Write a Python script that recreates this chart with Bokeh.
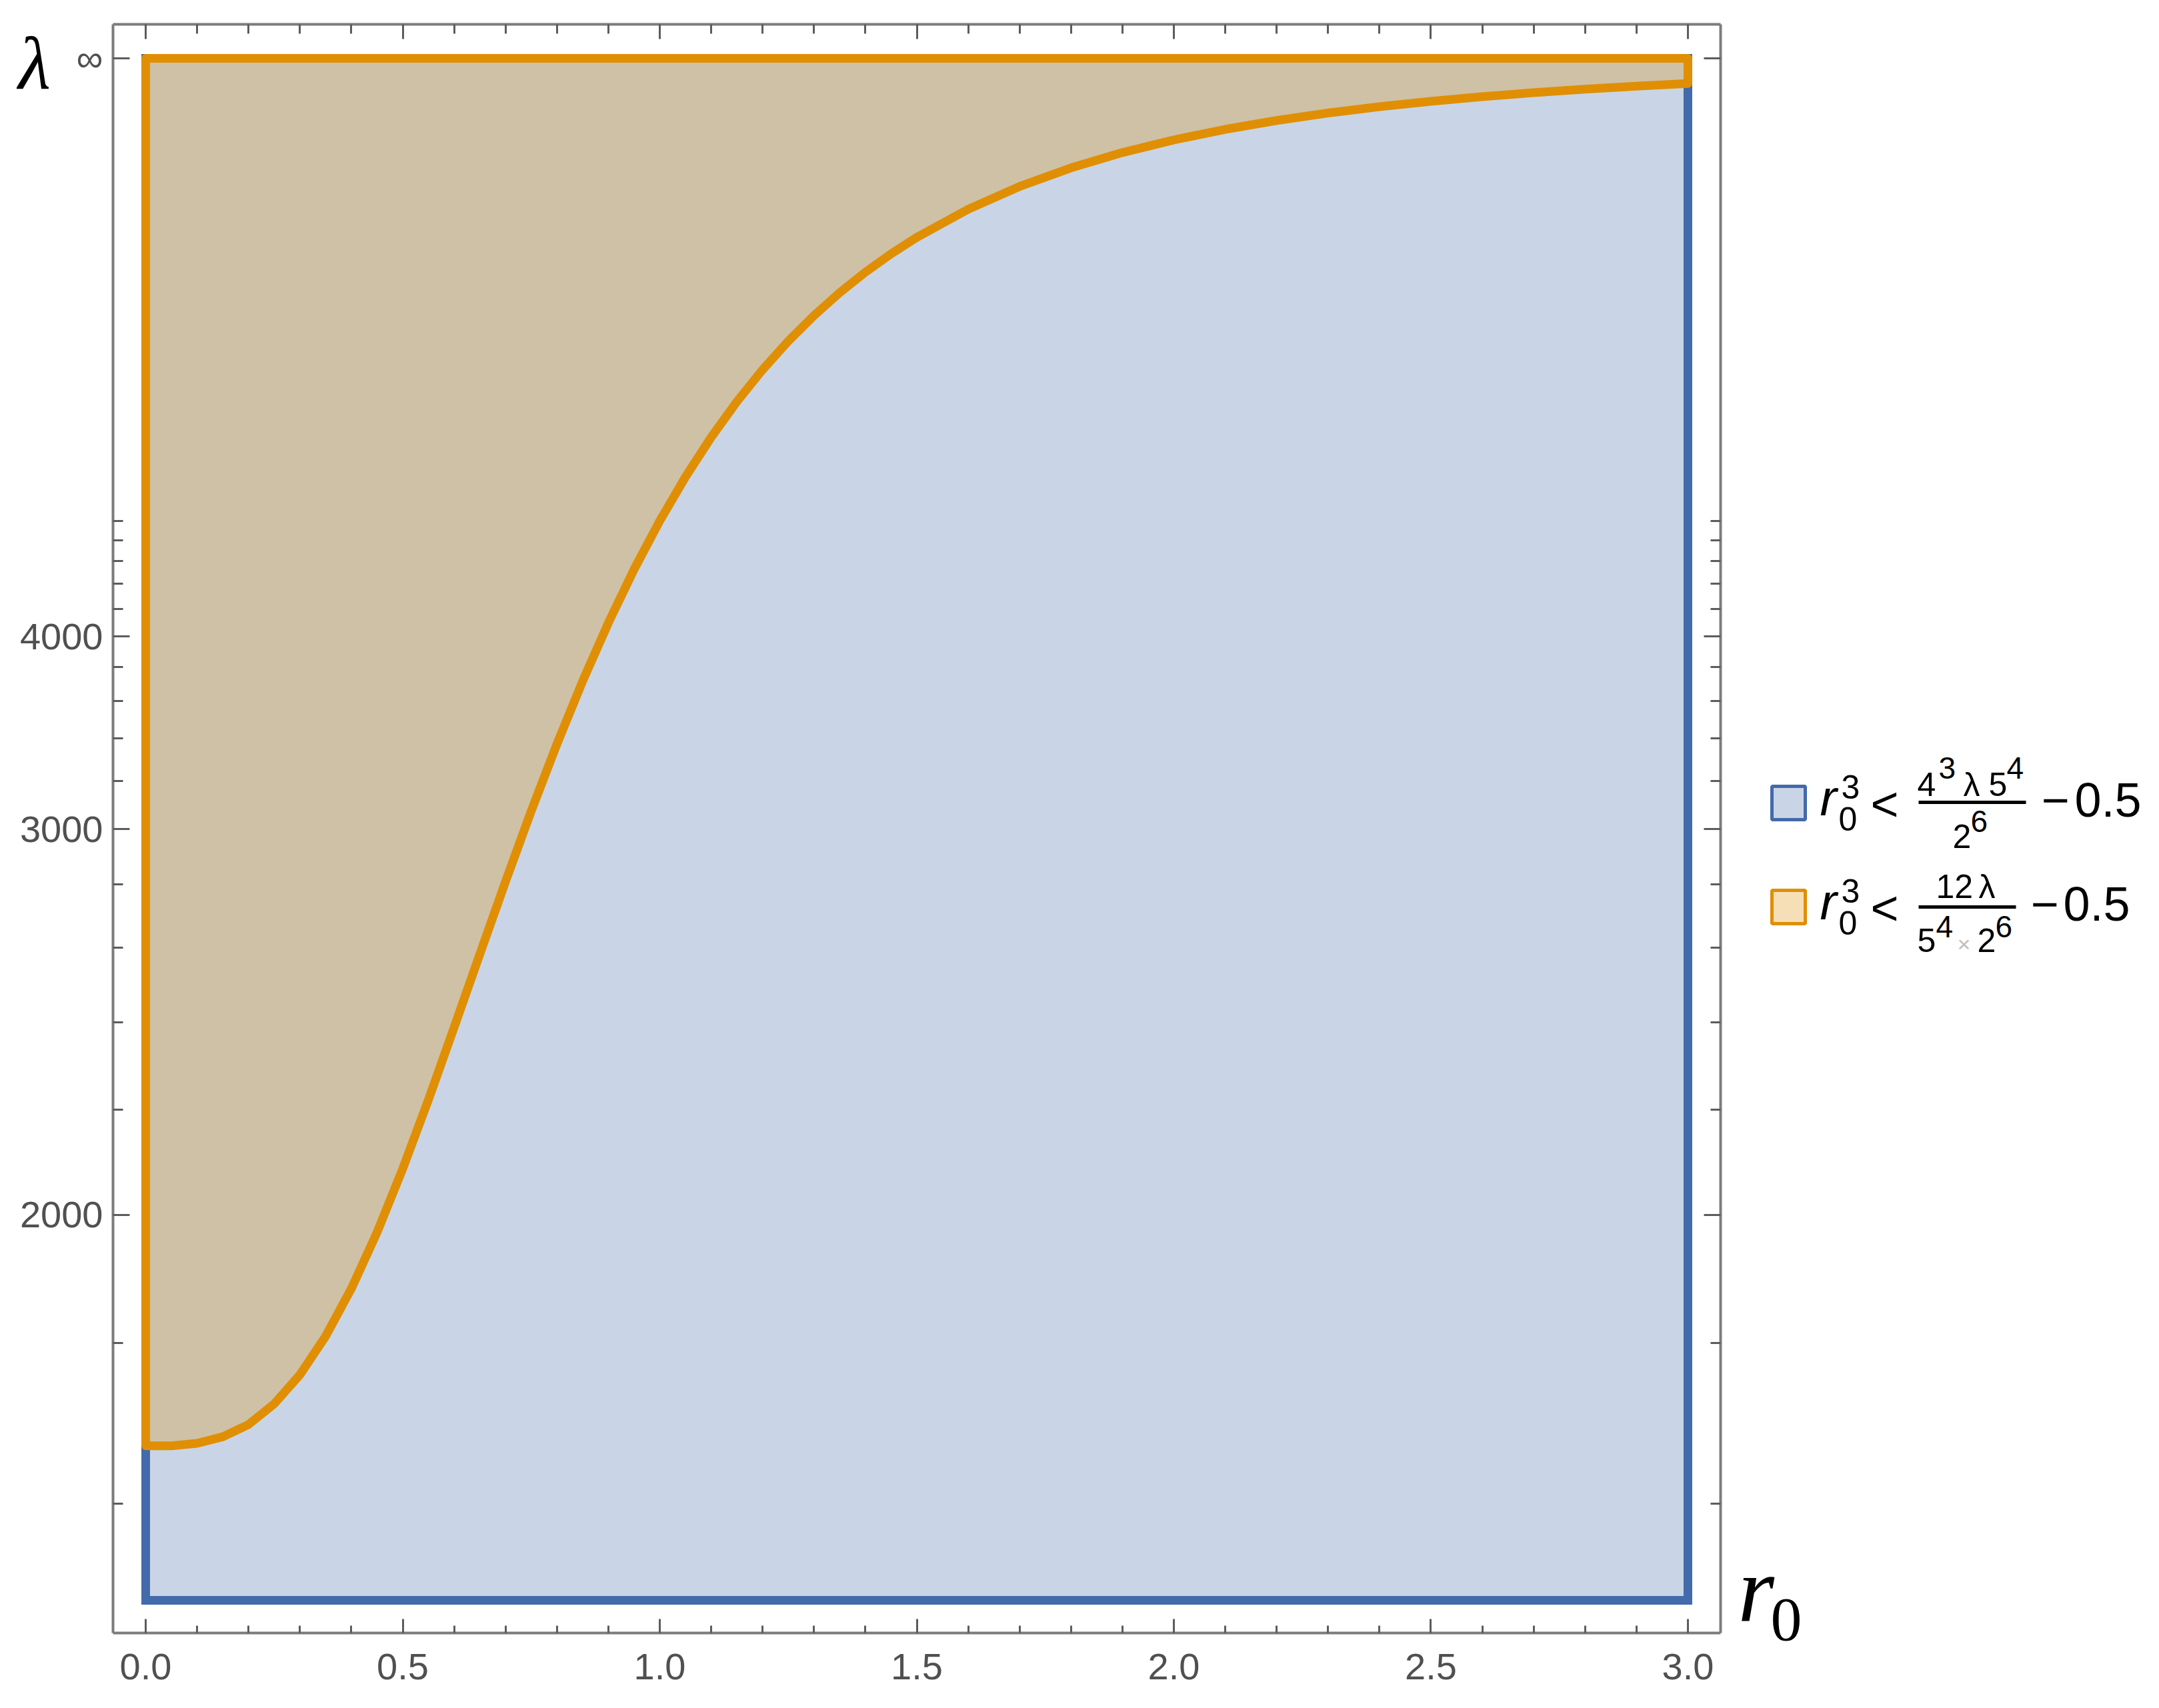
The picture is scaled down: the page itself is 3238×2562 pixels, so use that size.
import numpy as np
from bokeh.plotting import figure
from bokeh.models import (FixedTicker, PrintfTickFormatter, LinearAxis,
                          Range1d, ColumnDataSource)
from bokeh.layouts import row
from bokeh.embed import file_html
from bokeh.resources import INLINE
from bokeh.core.properties import value

# ---------------- data ----------------
# r0 samples and the lambda value of the orange boundary at each r0
R0 = [0.0, 0.05, 0.1, 0.15, 0.2, 0.25, 0.3, 0.35, 0.4, 0.45, 0.5, 0.55, 0.6,
      0.65, 0.7, 0.75, 0.8, 0.85, 0.9, 0.95, 1.0, 1.05, 1.1, 1.15, 1.2, 1.25,
      1.3, 1.35, 1.4, 1.45, 1.5, 1.6, 1.7, 1.8, 1.9, 2.0, 2.1, 2.2, 2.3, 2.4,
      2.5, 2.6, 2.7, 2.8, 2.9, 3.0]
LAMBDA_EDGE = [1667, 1667, 1670, 1678, 1693, 1719, 1757, 1810, 1880, 1970,
               2083, 2221, 2387, 2582, 2810, 3073, 3373, 3714, 4097, 4525,
               5000, 5525, 6103, 6736, 7427, 8177, 8990, 9868, 10813, 11829,
               12917, 15320, 18043, 21107, 24530, 28333, 32537, 37160, 42223,
               47747, 53750, 60253, 67277, 74840, 82963, 91667]
R0_LIMITS = [0.0, 3.0]
LAMBDA_LIMITS = [1500.0, np.inf]

X_TICKS = [0.0, 0.5, 1.0, 1.5, 2.0, 2.5, 3.0]
X_MINOR_TICKS = [0.0, 0.1, 0.2, 0.3, 0.4, 0.5, 0.6, 0.7, 0.8, 0.9, 1.0, 1.1,
                 1.2, 1.3, 1.4, 1.5, 1.6, 1.7, 1.8, 1.9, 2.0, 2.1, 2.2, 2.3,
                 2.4, 2.5, 2.6, 2.7, 2.8, 2.9, 3.0]
Y_TICK_VALUES = [2000.0, 3000.0, 4000.0, np.inf]
Y_TICK_LABELS = ["2000", "3000", "4000", "\u221e"]
Y_MINOR_VALUES = [1600, 1800, 2200, 2400, 2600, 2800, 3200, 3400, 3600, 3800,
                  4200, 4400, 4600, 4800, 5000]
Y_TITLE = "\u03bb"
X_TITLE = ("r", "0")

# ---------------- styles ----------------
BLUE_FILL = "#C9D5E6"
BLUE_EDGE = "#436AAA"
TAN_FILL = "#CFC1A5"
ORANGE = "#E08F04"
ORANGE_LIGHT = "#F6DFB7"
AXIS_COLOR = "#7c7c7c"
TICK_COLOR = "#5c5c5c"
LABEL_COLOR = "#505050"
SANS = "Liberation Sans"
SERIF = "Liberation Serif"
EDGE_W = 13

PAGE_W, PAGE_H = 3238, 2562
FRAME_TOP, FRAME_H = 36, 2413
LEFT_W = 165          # side panel holding the y labels
MAIN_W = 2427         # main plot (frame + thin borders)


def to_u(lam):
    """Compactified lambda scale: lambda_min -> 0, infinity -> 1."""
    return 1.0 - LAMBDA_LIMITS[0] / np.asarray(lam, dtype=float)


y_range = Range1d(-0.0212, 1.022)

# ---------------- main plot ----------------
p = figure(width=MAIN_W, height=PAGE_H,
           x_range=Range1d(-0.0636, 3.0636), y_range=y_range,
           x_axis_type=None, y_axis_type=None,
           output_backend="svg", toolbar_location=None,
           min_border_left=4, min_border_right=12,
           min_border_top=FRAME_TOP,
           min_border_bottom=PAGE_H - FRAME_TOP - FRAME_H)
p.outline_line_color = None
p.background_fill_color = "white"
p.border_fill_color = "white"

y_ticks = [float(v) for v in to_u(Y_TICK_VALUES)]
y_minor = [float(v) for v in to_u(Y_MINOR_VALUES)]


def frame_axis(ticks, minor, major_len, minor_len, show_labels):
    ax = LinearAxis(ticker=FixedTicker(ticks=ticks, minor_ticks=minor),
                    axis_line_color=AXIS_COLOR, axis_line_width=4,
                    major_tick_line_color=TICK_COLOR, major_tick_line_width=3,
                    minor_tick_line_color=TICK_COLOR, minor_tick_line_width=3,
                    major_tick_in=major_len, major_tick_out=0,
                    minor_tick_in=minor_len, minor_tick_out=0)
    if show_labels:
        ax.major_label_text_font = SANS
        ax.major_label_text_font_size = "56px"
        ax.major_label_text_color = LABEL_COLOR
    else:
        ax.major_label_text_font_size = "0px"
        ax.major_label_text_alpha = 0
        ax.major_label_standoff = 0
    return ax


bottom = frame_axis(X_TICKS, X_MINOR_TICKS, 21, 11, True)
bottom.formatter = PrintfTickFormatter(format="%.1f")
bottom.major_label_standoff = 31
top = frame_axis(X_TICKS, X_MINOR_TICKS, 22, 14, False)
left = frame_axis(y_ticks, y_minor, 25, 15, False)
right = frame_axis(y_ticks, y_minor, 25, 15, False)

p.add_layout(bottom, "below")
p.add_layout(top, "above")
p.add_layout(left, "left")
p.add_layout(right, "right")

# blue region: whole rectangle
p.quad(left=R0_LIMITS[0], right=R0_LIMITS[1],
       bottom=float(to_u(LAMBDA_LIMITS[0])), top=float(to_u(LAMBDA_LIMITS[1])),
       fill_color=BLUE_FILL, line_color=BLUE_EDGE, line_width=EDGE_W,
       line_join="miter")

# orange region: above the boundary curve
u_top = float(to_u(LAMBDA_LIMITS[1]))
xs = [R0_LIMITS[0], R0_LIMITS[1]] + R0[::-1]
ys = [u_top, u_top] + [float(v) for v in to_u(LAMBDA_EDGE)][::-1]
p.patch(xs, ys, fill_color=TAN_FILL, line_color=ORANGE, line_width=EDGE_W,
        line_join="round")

# ---------------- left panel: y tick labels and lambda title ----------------
lp = figure(width=LEFT_W, height=PAGE_H,
            x_range=Range1d(0, LEFT_W), y_range=y_range,
            x_axis_location=None, y_axis_location=None,
            output_backend="svg", toolbar_location=None,
            min_border_left=0, min_border_right=0,
            min_border_top=FRAME_TOP,
            min_border_bottom=PAGE_H - FRAME_TOP - FRAME_H)
lp.outline_line_color = None
lp.grid.visible = False
lp.background_fill_color = "white"
lp.border_fill_color = "white"

lp.text(x=[154] * len(y_ticks), y=y_ticks, text=Y_TICK_LABELS,
        text_font=value(SANS), text_font_size="56px", text_color=LABEL_COLOR,
        text_align="right", text_baseline="middle")
lp.text(x=[27], y=[0.9965], text=[Y_TITLE], text_font=value(SERIF),
        text_font_style="italic", text_font_size="112px", text_color="black",
        text_align="left", text_baseline="middle")

# ---------------- legend / right panel (pixel coordinates) ----------------
X0 = LEFT_W + MAIN_W
leg = figure(width=PAGE_W - X0, height=PAGE_H,
             x_range=Range1d(X0, PAGE_W), y_range=Range1d(PAGE_H, 0),
             x_axis_location=None, y_axis_location=None,
             output_backend="svg", toolbar_location=None,
             min_border_left=0, min_border_right=0,
             min_border_top=0, min_border_bottom=0)
leg.frame_align = False
leg.outline_line_color = None
leg.grid.visible = False
leg.background_fill_color = "white"
leg.border_fill_color = "white"

# r0 axis title
leg.text(x=[2606], y=[2383], text=[X_TITLE[0]], text_font=value(SERIF),
         text_font_style="italic", text_font_size="140px", text_color="black",
         text_baseline="middle", text_align="left")
leg.text(x=[2655], y=[2429], text=[X_TITLE[1]], text_font=value(SERIF),
         text_font_size="94px", text_color="black",
         text_baseline="middle", text_align="left")

SW_X = 2682
ROW_Y = [1204, 1360]
leg.rect(x=[SW_X, SW_X], y=ROW_Y, width=50, height=50,
         fill_color=[BLUE_FILL, ORANGE_LIGHT], line_color=[BLUE_EDGE, ORANGE],
         line_width=5)

# legend pieces: (text, x, centre offset from row, size, style, color)
common = [("r", 2729, -8, 76, "italic", "black"),
          ("3", 2761, -24, 50, "normal", "black"),
          ("0", 2757, 24, 50, "normal", "black"),
          ("<", 2805, 1, 72, "normal", "black")]
row1 = common + [("4", 2875, -28, 50, "normal", "black"),
                 ("3", 2907, -53, 46, "normal", "black"),
                 ("\u03bb", 2944, -28, 50, "normal", "black"),
                 ("5", 2982, -28, 50, "normal", "black"),
                 ("4", 3009, -53, 46, "normal", "black"),
                 ("2", 2928, 50, 50, "normal", "black"),
                 ("6", 2955, 27, 46, "normal", "black"),
                 ("\u2212", 3061, -5, 72, "normal", "black"),
                 ("0.5", 3111, -5, 72, "normal", "black")]
row2 = common + [("12", 2903, -31, 50, "normal", "black"),
                 ("\u03bb", 2967, -31, 50, "normal", "black"),
                 ("5", 2875, 50, 50, "normal", "black"),
                 ("4", 2903, 29, 46, "normal", "black"),
                 ("\u00d7", 2935, 55, 34, "normal", "#bdbdbd"),
                 ("2", 2965, 50, 50, "normal", "black"),
                 ("6", 2992, 29, 46, "normal", "black"),
                 ("\u2212", 3045, -5, 72, "normal", "black"),
                 ("0.5", 3094, -5, 72, "normal", "black")]

for ry, pieces in zip(ROW_Y, [row1, row2]):
    src = ColumnDataSource(dict(
        x=[pc[1] for pc in pieces],
        y=[ry + pc[2] for pc in pieces],
        text=[pc[0] for pc in pieces],
        size=["%dpx" % pc[3] for pc in pieces],
        style=[pc[4] for pc in pieces],
        color=[pc[5] for pc in pieces]))
    leg.text(x="x", y="y", text="text", source=src, text_font=value(SANS),
             text_font_size="size", text_font_style="style",
             text_color="color", text_baseline="middle",
             text_align="left")

# fraction bars
leg.segment(x0=[2877, 2877], y0=[1203, 1360], x1=[3038, 3023], y1=[1203, 1360],
            line_color="black", line_width=5)

layout = row(lp, p, leg)
open("out.html", "w").write(file_html(layout, INLINE))
